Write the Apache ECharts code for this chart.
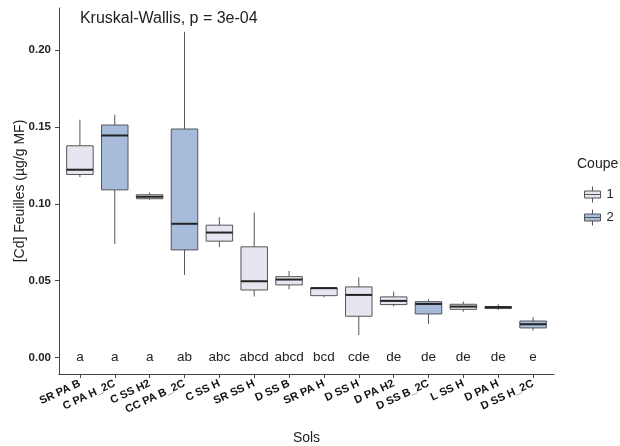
<!DOCTYPE html>
<html><head><meta charset="utf-8">
<script src="https://cdn.jsdelivr.net/npm/echarts@6/dist/echarts.min.js"></script>
<style>html,body{margin:0;padding:0;background:#fff}#c{width:620px;height:446px}</style>
</head><body><div id="c"></div>
<script>
// Soil treatments along the x axis
const sols = ['SR PA B','C PA H_2C','C SS H2','CC PA B_2C','C SS H','SR SS H','D SS B','SR PA H','D SS H','D PA H2','D SS B_2C','L SS H','D PA H','D SS H_2C'];
// Harvest (Coupe) for each treatment
const coupe = [1,2,1,2,1,1,1,1,1,1,2,1,1,2];
// Box statistics of [Cd] in leaves (µg/g MF)
const whiskerLow  = [0.1174,0.0739,0.1026,0.0537,0.0718,0.0396,0.0444,0.0392,0.0146,0.0331,0.0218,0.0298,0.0309,0.0174];
const q1          = [0.1191,0.1091,0.1033,0.0700,0.0757,0.0439,0.0472,0.0402,0.0268,0.0344,0.0283,0.0313,0.0318,0.0192];
const median      = [0.1222,0.1445,0.1046,0.0870,0.0813,0.0496,0.0507,0.0451,0.0407,0.0368,0.0348,0.0331,0.0327,0.0216];
const q3          = [0.1378,0.1513,0.1059,0.1487,0.0861,0.0720,0.0526,0.0452,0.0459,0.0394,0.0363,0.0346,0.0331,0.0237];
const whiskerHigh = [0.1548,0.1580,0.1074,0.2120,0.0913,0.0943,0.0563,0.0452,0.0520,0.0428,0.0379,0.0363,0.0346,0.0261];
// Post-hoc group letters
const letters = ['a','a','a','ab','abc','abcd','abcd','bcd','cde','de','de','de','de','e'];
const yTicks = [0, 0.05, 0.10, 0.15, 0.20];
const testLabel = 'Kruskal-Wallis, p = 3e-04';

const FONT = '"Liberation Sans", Arial, sans-serif';
const coupeColors = {1: '#E7E5F0', 2: '#A7BCDA'};

function rowsFor(g) {
  const rows = [];
  sols.forEach((s, i) => {
    if (coupe[i] === g) rows.push([i + 1, whiskerLow[i], q1[i], median[i], q3[i], whiskerHigh[i]]);
  });
  return rows;
}

function renderBox(params, api) {
  const x = api.value(0);
  const lo = api.coord([x, api.value(1)]);
  const b1 = api.coord([x, api.value(2)]);
  const md = api.coord([x, api.value(3)]);
  const b3 = api.coord([x, api.value(4)]);
  const hi = api.coord([x, api.value(5)]);
  const w = api.size([0.76, 0])[0];
  const cx = lo[0];
  const fill = api.visual('color');
  return {type: 'group', children: [
    {type: 'line', shape: {x1: cx, y1: hi[1], x2: cx, y2: b3[1]}, style: {stroke: '#555', lineWidth: 1}},
    {type: 'line', shape: {x1: cx, y1: b1[1], x2: cx, y2: lo[1]}, style: {stroke: '#555', lineWidth: 1}},
    {type: 'rect', shape: {x: cx - w / 2, y: b3[1], width: w, height: b1[1] - b3[1]}, style: {fill: fill, stroke: '#555', lineWidth: 1}},
    {type: 'line', shape: {x1: cx - w / 2, y1: md[1], x2: cx + w / 2, y2: md[1]}, style: {stroke: '#222', lineWidth: 2}}
  ]};
}

// Legend key: small box with median line and whisker stubs
const boxIcon = 'path://M0,4.5L16,4.5L16,11.5L0,11.5Z M0,8L16,8 M8,0L8,4.5 M8,11.5L8,16';

const chart = echarts.init(document.getElementById('c'), null, {renderer: 'canvas'});
chart.setOption({
  backgroundColor: '#fff',
  animation: false,
  grid: {left: 59, right: 66, top: 8, bottom: 72, containLabel: false, outerBoundsMode: 'none'},
  xAxis: {
    type: 'value', min: 0.4, max: 14.6,
    name: 'Sols', nameLocation: 'middle', nameGap: 57, nameMoveOverlap: false,
    nameTextStyle: {fontSize: 14, color: '#222', fontFamily: FONT},
    axisLine: {show: true, onZero: false, lineStyle: {color: '#444', width: 1}},
    axisTick: {show: true, length: 4, customValues: sols.map((s, i) => i + 1), lineStyle: {color: '#444'}},
    axisLabel: {
      customValues: sols.map((s, i) => i + 1),
      formatter: v => sols[Math.round(v) - 1] || '',
      rotate: 25, margin: 9, fontSize: 11, fontWeight: 'bold', color: '#111', fontFamily: FONT
    },
    splitLine: {show: false}
  },
  yAxis: {
    type: 'value', min: -0.0108, max: 0.2275,
    name: '[Cd] Feuilles (µg/g MF)', nameLocation: 'middle', nameGap: 32, nameMoveOverlap: false,
    nameTextStyle: {fontSize: 14, color: '#222', fontFamily: FONT},
    axisLine: {show: true, onZero: false, lineStyle: {color: '#444', width: 1}},
    axisTick: {show: true, length: 4, customValues: yTicks, lineStyle: {color: '#444'}},
    axisLabel: {customValues: yTicks, formatter: v => v.toFixed(2), margin: 8, fontSize: 11.5, fontWeight: 'bold', color: '#222', fontFamily: FONT},
    splitLine: {show: false}
  },
  legend: {
    orient: 'vertical', left: 579, top: 181, itemWidth: 16, itemHeight: 16, itemGap: 6,
    icon: boxIcon, selectedMode: false, data: ['1', '2'],
    itemStyle: {borderColor: '#555', borderWidth: 1},
    textStyle: {fontSize: 13, color: '#222', fontFamily: FONT, padding: [0, 0, 0, 1]}
  },
  graphic: [{
    type: 'text', left: 577, top: 157,
    style: {text: 'Coupe', fontSize: 14, fill: '#222', fontFamily: FONT}
  }],
  series: [
    {name: '1', type: 'custom', renderItem: renderBox, itemStyle: {color: coupeColors[1]},
     encode: {x: 0, y: [1, 2, 3, 4, 5]}, data: rowsFor(1), z: 2},
    {name: '2', type: 'custom', renderItem: renderBox, itemStyle: {color: coupeColors[2]},
     encode: {x: 0, y: [1, 2, 3, 4, 5]}, data: rowsFor(2), z: 2},
    {name: 'letters', type: 'custom', z: 3,
     data: letters.map((l, i) => [i + 1, 0]),
     renderItem: (params, api) => {
       const p = api.coord([api.value(0), api.value(1)]);
       return {type: 'text', style: {text: letters[params.dataIndex], x: p[0], y: p[1], align: 'center', verticalAlign: 'middle', fontSize: 13.5, fill: '#222', fontFamily: FONT}};
     }},
    {name: 'test', type: 'custom', z: 4,
     data: [[1, 0.2205]],
     renderItem: (params, api) => {
       const p = api.coord([api.value(0), api.value(1)]);
       return {type: 'text', style: {text: testLabel, x: p[0], y: p[1], align: 'left', verticalAlign: 'middle', fontSize: 16, fill: '#222', fontFamily: FONT}};
     }}
  ]
});
</script>
</body></html>
